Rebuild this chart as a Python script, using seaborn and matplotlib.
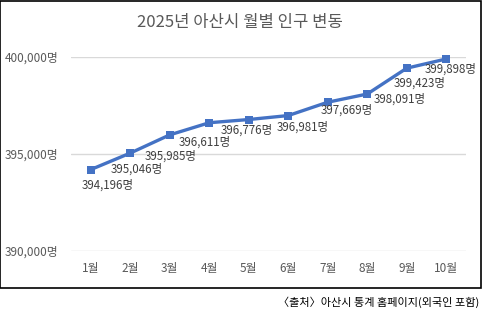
import pandas as pd
import seaborn as sns
import matplotlib.pyplot as plt
from matplotlib.patches import Rectangle

# 데이터
months = ['1월', '2월', '3월', '4월', '5월', '6월', '7월', '8월', '9월', '10월']
population = [394196, 395046, 395985, 396611, 396776, 396981, 397669, 398091, 399423, 399898]
y_ticks = [390000, 395000, 400000]

# 데이터 레이블 위치 (픽셀 오프셋, 엑셀에서 수동으로 옮긴 위치)
label_dx = [17, 7, 1, -4, -2, 15, 19, 33, 13, 4]
label_dy = [-16, -16, -21, -19, -11, -12, -8, -5, -15, -10]

df = pd.DataFrame({'month': months, 'population': population})

sns.set_theme(style='white')
plt.rcParams['font.family'] = ['Noto Sans CJK KR', 'DejaVu Sans']

gray = '#595959'
blue = '#4472C4'

fig = plt.figure(figsize=(4.82, 3.21), dpi=100)
ax = fig.add_axes([0.1473, 0.2181, 0.8195, 0.6044])

sns.lineplot(data=df, x='month', y='population', ax=ax, color=blue,
             linewidth=2.4, marker='s', markersize=6, markeredgewidth=0,
             clip_on=False, zorder=3)

ax.set_ylim(390000, 400000)
ax.set_xlim(-0.5, len(months) - 0.5)
ax.set_yticks(y_ticks)
ax.set_yticklabels([f'{v:,}명' for v in y_ticks])
ax.set_xlabel('')
ax.set_ylabel('')
ax.grid(axis='y', color='#D9D9D9', linewidth=1)
ax.grid(axis='x', visible=False)
for s in ax.spines.values():
    s.set_visible(False)
ax.tick_params(axis='both', length=0, labelsize=8.5, labelcolor=gray)
ax.tick_params(axis='y', pad=9)
ax.tick_params(axis='x', pad=8)

for i, v in enumerate(population):
    ax.annotate(f'{v:,}명', (i, v), xytext=(label_dx[i], label_dy[i]),
                textcoords='offset pixels', ha='center', va='center',
                fontsize=8.3, color='#404040', zorder=4, annotation_clip=False)

fig.text(0.4979, 0.931, '2025년 아산시 월별 인구 변동', ha='center', va='center',
         fontsize=12, color=gray)
fig.text(0.994, 0.059, '〈출처〉아산시 통계 홈페이지(외국인 포함)', ha='right', va='center',
         fontsize=8, color='black')

# 차트 테두리
fig.patches.append(Rectangle((0.001, 0.1028), 0.997, 0.895, transform=fig.transFigure,
                             fill=False, edgecolor='black', linewidth=1.2))

fig.savefig('out.png', dpi=100)
